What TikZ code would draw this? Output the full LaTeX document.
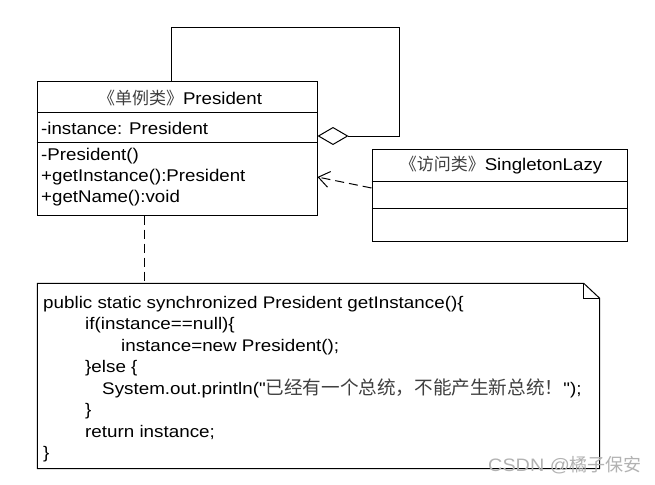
\documentclass[tikz,border=0pt]{standalone}
\usepackage{fontspec}
\setmainfont{Liberation Sans}[FakeStretch=1.1]
\newfontfamily\codefont{Liberation Sans}[FakeStretch=1.12]
\newfontfamily\cjk{Noto Sans CJK SC}
\usetikzlibrary{arrows.meta,calc}
\tikzset{
  box/.style={draw, line width=1pt, inner sep=0pt, fill=white},
  lbl/.style={inner sep=0pt, font=\fontsize{17}{20}\selectfont, anchor=west},
  ttl/.style={inner sep=0pt, font=\fontsize{17}{20}\selectfont},
  code/.style={inner sep=0pt, font=\codefont\fontsize{16.8}{20}\selectfont, anchor=base west},
  conn/.style={line width=1pt},
  dsh/.style={line width=1pt, dash pattern=on 9pt off 5pt},
  wm/.style={inner sep=0pt, text=black!30, font=\fontsize{18}{20}\selectfont, anchor=west}
}
\newcommand{\zh}[1]{{\cjk\color{black!75}#1}}
\newcommand{\zhc}[1]{{\cjk\fontsize{18.6}{20}\selectfont\color{black!75}#1}}
\begin{document}
\begin{tikzpicture}[x=1pt,y=-1pt]
\useasboundingbox[fill=white] (0,0) rectangle (655,484);

% President class
\node[box, minimum width=280, minimum height=133] (pres) at (177,148.5) {};
\draw[conn] (pres.west |- 0,113) -- (pres.east |- 0,113);
\draw[conn] (pres.west |- 0,142) -- (pres.east |- 0,142);
\node[ttl] (prest) at (180,98) {\zh{《单例类》}President};
\node[lbl] (pa) at (41,128) {-instance: President};
\node[lbl] (pm1) at (41,156) {-President()};
\node[lbl] (pm2) at (41,177) {+getInstance():President};
\node[lbl] (pm3) at (41,198) {+getName():void};

% SingletonLazy class
\node[box, minimum width=255, minimum height=92] (lazy) at (499.5,195) {};
\draw[conn] (lazy.west |- 0,181) -- (lazy.east |- 0,181);
\draw[conn] (lazy.west |- 0,208) -- (lazy.east |- 0,208);
\node[ttl] (lazyt) at (501,165) {\zh{《访问类》}SingletonLazy};

% self aggregation
\coordinate (s1) at (171,28);
\coordinate (s2) at (399,28);
\coordinate (s3) at (399,136);
\draw[conn, -{Diamond[open, length=31pt, width=18pt, line width=1pt]}]
  (pres.north -| s1) -- (s1) -- (s2) -- (s3) -- (pres.east |- s3);

% dependency
\draw[dsh, -{Straight Barb[length=11pt, width=16pt, line width=1pt]}]
  (lazy.west |- 0,188) -- (pres.east |- 0,177);

% note
\node[minimum width=562, minimum height=185, inner sep=0pt] (note) at (318.5,376) {};
\draw[conn] (note.north west) -- ($(note.north east)+(-16,0)$)
  -- ($(note.north east)+(0,15)$) -- (note.south east) -- (note.south west) -- cycle;
\draw[conn] ($(note.north east)+(-16,0)$) -- ($(note.north east)+(-16,15)$)
  -- ($(note.north east)+(0,15)$);
\draw[dsh] (pres.south -| 144,0) -- (note.north -| 144,0);

\node[code] (c1) at (43,308) {public static synchronized President getInstance()\{};
\node[code] (c2) at (85,329.5) {if(instance==null)\{};
\node[code] (c3) at (121,351) {instance=new President();};
\node[code] (c4) at (85,372.5) {\}else \{};
\node[code] (c5) at (102,394) {System.out.println("\zhc{已经有一个总统，不能产生新总统！}");};
\node[code] (c6) at (85,415.5) {\}};
\node[code] (c7) at (85,437) {return instance;};
\node[code] (c8) at (43,458.5) {\}};

\node[wm] (wmk) at (488,465) {CSDN @\cjk 橘子保安};
\end{tikzpicture}
\end{document}
